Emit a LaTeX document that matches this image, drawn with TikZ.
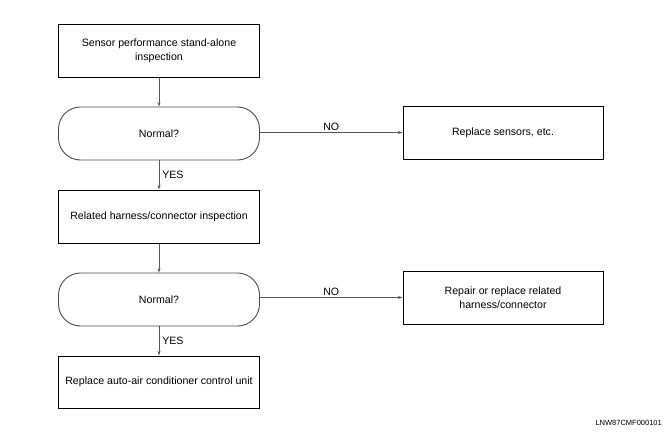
\documentclass[tikz,border=0pt]{standalone}
\usepackage{fontspec}
\setmainfont{Liberation Sans}
\usetikzlibrary{arrows.meta}
\begin{document}
\begin{tikzpicture}[x=1pt,y=-1pt,
  box/.style={draw=black,line width=1pt,minimum width=201pt,minimum height=53pt,align=center,font=\fontsize{10.6}{13.5}\selectfont,inner sep=2pt},
  decision/.style={draw=black!70,line width=0.9pt,rounded corners=22pt,minimum width=201pt,minimum height=53pt,align=center,font=\fontsize{10.6}{13.5}\selectfont},
  conn/.style={draw=black!65,line width=0.7pt,-{Stealth[length=4.5pt,width=3pt]}},
  lbl/.style={font=\fontsize{10.6}{12}\selectfont,inner sep=1pt}]
\useasboundingbox (0,0) rectangle (663,436);
\node[box] (b1) at (159,51) {Sensor performance stand-alone\\inspection};
\node[decision] (d1) at (159,133.5) {Normal?};
\node[box,minimum width=200pt] (r1) at (503,132.5) {Replace sensors, etc.};
\node[box] (b2) at (159,216.5) {Related harness/connector inspection};
\node[decision] (d2) at (159,299.5) {Normal?};
\node[box,minimum width=200pt] (r2) at (503,297.5) {Repair or replace related\\harness/connector};
\node[box,minimum height=52pt] (b3) at (159,382) {Replace auto-air conditioner control unit};
\draw[conn] (b1) -- (d1);
\draw[conn] (d1) -- node[lbl,right,xshift=2pt] {YES} (b2);
\draw[conn] (b2) -- (d2);
\draw[conn] (d2) -- node[lbl,right,xshift=2pt] {YES} (b3);
\draw[conn] (d1.east |- r1) -- node[lbl,above,yshift=1pt] {NO} (r1.west);
\draw[conn] (d2.east |- r2) -- node[lbl,above,yshift=1pt] {NO} (r2.west);
\node[font=\fontsize{7.5}{8}\selectfont,anchor=east,inner sep=0pt] (code) at (662,423) {LNW87CMF000101};
\end{tikzpicture}
\end{document}
